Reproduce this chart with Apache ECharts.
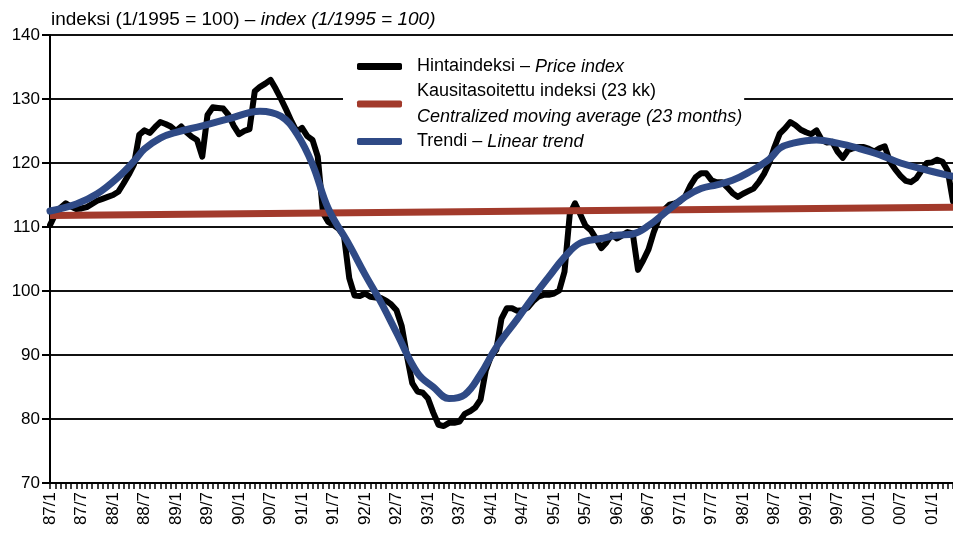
<!DOCTYPE html>
<html>
<head>
<meta charset="utf-8">
<script src="https://cdn.jsdelivr.net/npm/echarts@6/dist/echarts.min.js"></script>
<style>
  html, body { margin: 0; padding: 0; background: #fff; }
  #chart { width: 953px; height: 533px; }
</style>
</head>
<body>
<div id="chart"></div>
<script>
// monthly categories 87/1 .. 01/5
const startYear = 1987
const monthCount = 173
const months = []
for (let k = 0; k < monthCount; k++) {
  const yy = String((startYear + Math.floor(k / 12)) % 100).padStart(2, '0')
  months.push(yy + '/' + (k % 12 + 1))
}

// black: Hintaindeksi, one value per month
const priceIndex = [
  110.3, 112, 113, 113.7, 113.2, 112.8, 112.9, 113.1, 113.6, 114.1,
  114.4, 114.7, 115, 115.5, 116.8, 118.2, 119.8, 124.4, 125.1, 124.7,
  125.6, 126.4, 126.1, 125.7, 125, 125.7, 124.8, 124.1, 123.6, 121,
  127.5, 128.7, 128.6, 128.5, 127.5, 125.8, 124.5, 125, 125.3, 131.2,
  131.9, 132.4, 133, 131.6, 130, 128.3, 126.5, 124.9, 125.5, 124.2,
  123.6, 121, 112.2, 110.8, 110.3, 109.7, 108.6, 102, 99.3, 99.2,
  99.6, 99.1, 99, 98.9, 98.5, 97.9, 97, 94.5, 89.8, 85.6,
  84.3, 84.1, 83.2, 81, 79.1, 78.9, 79.4, 79.4, 79.6, 80.8,
  81.2, 81.8, 83, 87.6, 89.8, 90.8, 95.7, 97.3, 97.3, 96.9,
  97, 97.4, 98.4, 99.1, 99.4, 99.4, 99.6, 100.1, 103, 112,
  113.7, 112, 110.2, 109.5, 108.2, 106.7, 107.6, 108.8, 108.2, 108.7,
  109.2, 109, 103.3, 104.8, 106.5, 109.2, 111.3, 112.7, 113.5, 113.7,
  114, 114.8, 116.5, 117.8, 118.4, 118.4, 117.3, 117, 117, 116.2,
  115.3, 114.7, 115.2, 115.6, 116, 117, 118.3, 120, 122.5, 124.6,
  125.4, 126.4, 125.9, 125.2, 124.8, 124.5, 125.1, 123.6, 123.2, 123.3,
  121.8, 120.8, 122, 122.3, 122.5, 122.5, 122.2, 121.8, 122.3, 122.6,
  120.2, 119, 118, 117.2, 117, 117.6, 118.8, 120, 120.1, 120.5,
  120.2, 118.8, 114
]

// red: straight line, [month index, value]
const redLine = [[0, 111.8], [172, 113.1]]

// blue: smooth curve, [month index, value]
const blueCurve = [
  [0, 112.5], [5, 113.6], [9, 115.2], [13, 117.8], [16, 120.3], [18, 122.2],
  [21, 123.9], [24, 124.8], [29, 125.8], [34, 126.9], [40, 128.1], [44, 127.3],
  [47, 124.6], [50, 119.8], [53, 112.9], [57, 107.2], [60, 102.6], [63, 98.3],
  [66, 93.5], [70, 87.2], [73, 85], [76, 83.2], [79, 83.8], [82, 87],
  [85, 91.2], [89, 95.6], [92, 99], [95, 102.2], [98, 105.3], [101, 107.5],
  [105, 108.2], [108, 108.7], [111, 108.9], [114, 110.2], [118, 112.8], [121, 114.7],
  [124, 116], [127, 116.6], [130, 117.3], [133, 118.5], [137, 120.6], [139, 122.3],
  [141, 123], [146, 123.6], [150, 123.1], [154, 122.3], [158, 121.3], [162, 120],
  [167, 118.9], [172, 117.9]
]

const seriesNames = ['Hintaindeksi', 'Kausitasoitettu', 'Trendi']
const legendText = {
  Hintaindeksi: '{n|Hintaindeksi – }{i|Price index}',
  Kausitasoitettu: '{n|Kausitasoitettu indeksi (23 kk)}\n{i|Centralized moving average (23 months)}',
  Trendi: '{n|Trendi – }{i|Linear trend}'
}

const font = "'Liberation Sans', Arial, sans-serif"
const chart = echarts.init(document.getElementById('chart'), null, { renderer: 'canvas' })

const option = {
  animation: false,
  backgroundColor: '#fff',
  textStyle: { fontFamily: font },
  title: {
    left: 51,
    top: 10,
    padding: 0,
    text: '{n|indeksi (1/1995 = 100) – }{i|index (1/1995 = 100)}',
    textStyle: {
      fontWeight: 'normal',
      fontSize: 19,
      rich: {
        n: { fontSize: 19, fontWeight: 'normal', color: '#000', fontFamily: font },
        i: { fontSize: 19, fontWeight: 'normal', color: '#000', fontStyle: 'italic', fontFamily: font }
      }
    }
  },
  legend: {
    orient: 'vertical',
    left: 343,
    top: 52,
    padding: [2, 2, 6, 14],
    itemGap: 0,
    itemWidth: 45,
    itemHeight: 7,
    icon: 'roundRect',
    backgroundColor: '#fff',
    z: 10,
    data: seriesNames,
    formatter: name => legendText[name],
    textStyle: {
      fontSize: 18,
      lineHeight: 25,
      padding: [0, 0, 0, 10],
      rich: {
        n: { fontSize: 18, lineHeight: 25, color: '#000', fontFamily: font },
        i: { fontSize: 18, lineHeight: 25, color: '#000', fontStyle: 'italic', fontFamily: font }
      }
    }
  },
  grid: { left: 50, right: 0, top: 35, bottom: 50, containLabel: false },
  xAxis: {
    type: 'category',
    data: months,
    boundaryGap: false,
    axisLine: { lineStyle: { color: '#000', width: 2 } },
    axisTick: { show: true, interval: 0, length: 6, lineStyle: { color: '#000', width: 1.5 } },
    axisLabel: {
      interval: 5,
      rotate: 90,
      margin: 9,
      fontSize: 17,
      color: '#000',
      fontFamily: font
    },
    splitLine: { show: false }
  },
  yAxis: {
    type: 'value',
    min: 70,
    max: 140,
    interval: 10,
    axisLine: { show: true, lineStyle: { color: '#000', width: 2 } },
    axisTick: { show: true, length: 8, lineStyle: { color: '#000', width: 2 } },
    axisLabel: { fontSize: 17, color: '#000', margin: 10, fontFamily: font },
    splitLine: { show: true, lineStyle: { color: '#111', width: 2 } }
  },
  series: [
    {
      name: 'Hintaindeksi',
      type: 'line',
      data: priceIndex,
      showSymbol: false,
      color: '#000',
      lineStyle: { width: 6, color: '#000', join: 'round', cap: 'round' },
      z: 2
    },
    {
      name: 'Kausitasoitettu',
      type: 'line',
      data: redLine,
      showSymbol: false,
      color: '#A23A2B',
      lineStyle: { width: 7, color: '#A23A2B' },
      z: 3
    },
    {
      name: 'Trendi',
      type: 'line',
      data: blueCurve,
      smooth: 0.4,
      showSymbol: false,
      color: '#2F4A86',
      lineStyle: { width: 7, color: '#2F4A86', cap: 'round' },
      z: 4
    }
  ]
}
chart.setOption(option)
</script>
</body>
</html>
